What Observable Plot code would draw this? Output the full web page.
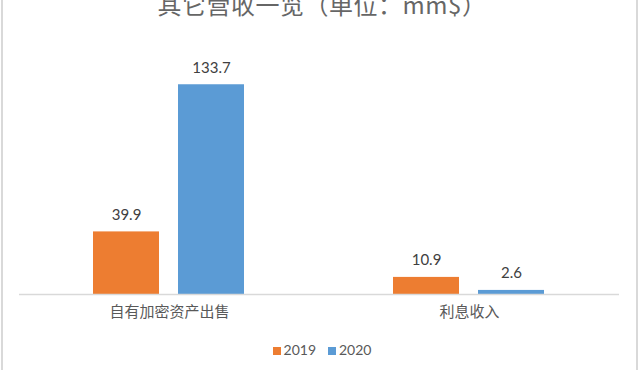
<!DOCTYPE html>
<html>
<head>
<meta charset="utf-8">
<script src="https://cdn.jsdelivr.net/npm/d3@7"></script>
<script src="https://cdn.jsdelivr.net/npm/@observablehq/plot@0.6"></script>
<style>
  html, body { margin: 0; padding: 0; background: #fff; }
  #wrap { position: relative; width: 640px; height: 370px; overflow: hidden; background: #fff;
          font-family: Lato, "Noto Sans CJK SC", sans-serif; }
  #chart { position: absolute; left: 0; top: 0; }
  #title { position: absolute; left: 8px; width: 628px; top: -14px; text-align: center;
           font-size: 24px; letter-spacing: 0.5px; color: #666; font-family: "Noto Sans CJK SC", sans-serif; white-space: nowrap; }
  #legend { position: absolute; left: 0; width: 644px; top: 341px; text-align: center;
            font-size: 14px; color: #595959; }
  #legend span.sw { display: inline-block; width: 8px; height: 8px; margin-right: 3px; vertical-align: 0px; }
  #legend span.item { margin: 0 6px; }
  .bl { position: absolute; top: 0; width: 2px; height: 370px; background: #d9d9d9; }
</style>
</head>
<body>
<div id="wrap">
  <div id="chart"></div>
  <div id="title"></div>
  <div id="legend"></div>
  <div class="bl" style="left:1px"></div>
  <div class="bl" style="left:636px"></div>
</div>
<script>
const categories = ["自有加密资产出售", "利息收入"];
const years = ["2019", "2020"];
const values2019 = [39.9, 10.9];
const values2020 = [133.7, 2.6];
const colors = ["#ED7D31", "#5B9BD5"];
const titleText = "其它营收一览（单位：mm$）";

const data = [];
categories.forEach((c, i) => {
  data.push({category: c, year: years[0], value: values2019[i]});
  data.push({category: c, year: years[1], value: values2020[i]});
});

const chart = Plot.plot({
  width: 640,
  height: 370,
  marginTop: 43,
  marginBottom: 76,
  marginLeft: 18,
  marginRight: 21,
  style: {fontFamily: 'Lato, "Noto Sans CJK SC", sans-serif', background: "transparent"},
  fx: {domain: categories, padding: 0, label: null},
  x: {domain: years, paddingInner: 0.221, paddingOuter: 0.855, axis: null},
  y: {domain: [0, 160], axis: null},
  color: {domain: years, range: colors},
  marks: [
    Plot.barY(data, {fx: "category", x: "year", y: "value", fill: "year"}),
    Plot.ruleY([0], {stroke: "#d9d9d9", strokeWidth: 1.5}),
    Plot.text(data, {fx: "category", x: "year", y: "value", text: d => d.value.toFixed(1),
      dy: -17, fontSize: 15, fill: "#404040"}),
    Plot.axisFx({anchor: "bottom", tickSize: 0, tickPadding: 12, fontSize: 15, fill: "#595959",
      label: null, fontFamily: '"Noto Sans CJK SC", sans-serif'})
  ]
});
document.getElementById("chart").appendChild(chart);
document.getElementById("title").textContent = titleText;

const legend = document.getElementById("legend");
years.forEach((y, i) => {
  const item = document.createElement("span");
  item.className = "item";
  const sw = document.createElement("span");
  sw.className = "sw";
  sw.style.background = colors[i];
  item.appendChild(sw);
  item.appendChild(document.createTextNode(y));
  legend.appendChild(item);
});
</script>
</body>
</html>
